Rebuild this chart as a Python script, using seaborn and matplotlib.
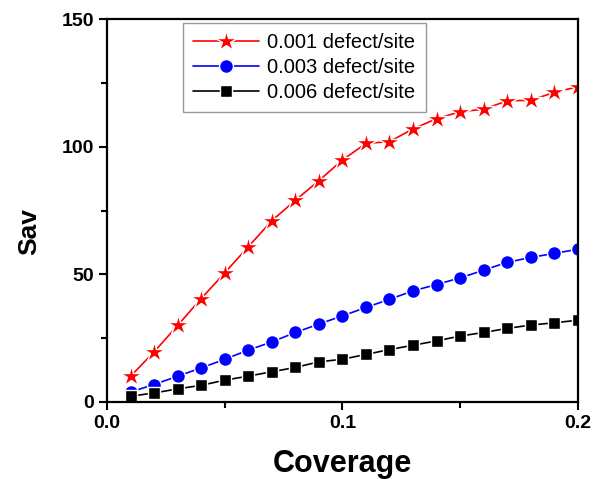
import matplotlib
matplotlib.use("Agg")
import matplotlib.pyplot as plt
import seaborn as sns
import pandas as pd
from matplotlib.ticker import MultipleLocator

coverage = [0.01, 0.02, 0.03, 0.04, 0.05, 0.06, 0.07, 0.08, 0.09, 0.10,
            0.11, 0.12, 0.13, 0.14, 0.15, 0.16, 0.17, 0.18, 0.19, 0.20]
sav_001 = [10.1, 19.6, 30.0, 40.5, 50.6, 60.8, 71.0, 79.0, 86.7, 94.8,
           101.3, 102.0, 107.0, 111.0, 113.7, 114.7, 118.0, 118.2, 121.3, 123.5]
sav_003 = [3.9, 6.8, 10.1, 13.3, 16.7, 20.3, 23.5, 27.2, 30.5, 33.7,
           37.0, 40.2, 43.5, 46.0, 48.6, 51.6, 54.7, 56.6, 58.2, 59.8]
sav_006 = [2.2, 3.5, 5.1, 6.5, 8.5, 10.1, 11.8, 13.5, 15.7, 16.7,
           18.6, 20.5, 22.2, 23.9, 25.8, 27.2, 28.8, 30.1, 31.0, 32.0]
labels = ["0.001 defect/site", "0.003 defect/site", "0.006 defect/site"]

sns.set_theme(style="ticks")
plt.rcParams['font.family'] = ['Liberation Sans', 'DejaVu Sans']
plt.rcParams['text.color'] = 'black'
plt.rcParams['axes.labelcolor'] = 'black'
plt.rcParams['xtick.color'] = 'black'
plt.rcParams['ytick.color'] = 'black'

fig = plt.figure(figsize=(6.05, 4.79), dpi=100)
ax = fig.add_axes([0.177, 0.161, 0.778, 0.799])

specs = [(sav_001, labels[0], "red", "*", 16),
         (sav_003, labels[1], "blue", "o", 10),
         (sav_006, labels[2], "black", "s", 8.5)]
for vals, lab, col, mk, ms in specs:
    df = pd.DataFrame({"Coverage": coverage, "Sav": vals})
    sns.lineplot(data=df, x="Coverage", y="Sav", ax=ax, color=col, marker=mk,
                 markersize=ms, markeredgecolor="white", markeredgewidth=1.0,
                 markerfacecolor=col, linewidth=1.2, label=lab)

ax.set_xlim(0, 0.2)
ax.set_ylim(0, 150)
ax.set_xticks([0, 0.1, 0.2])
ax.set_xticklabels(["0.0", "0.1", "0.2"])
ax.xaxis.set_minor_locator(MultipleLocator(0.05))
ax.yaxis.set_major_locator(MultipleLocator(50))
ax.yaxis.set_minor_locator(MultipleLocator(25))
ax.tick_params(which="major", length=6, width=1.5, direction="out", labelsize=14)
ax.tick_params(which="minor", length=4, width=1.5, direction="out")
for lbl in ax.get_xticklabels() + ax.get_yticklabels():
    lbl.set_fontweight("bold")
for sp in ax.spines.values():
    sp.set_visible(True)
    sp.set_linewidth(1.6)
    sp.set_color("black")

ax.set_xlabel("Coverage", fontsize=22, fontweight="bold", labelpad=12)
ax.set_ylabel("Sav", fontsize=19, fontweight="bold")
ax.yaxis.set_label_coords(-0.14, 0.445)

leg = ax.legend(loc="upper left", bbox_to_anchor=(0.161, 0.99), fontsize=14.5,
                frameon=True, fancybox=False, handlelength=3.3, borderpad=0.5,
                labelspacing=0.3, handletextpad=0.4, borderaxespad=0)
leg.get_frame().set_edgecolor("gray")
leg.get_frame().set_linewidth(1.0)

fig.savefig("out.png", dpi=100)
